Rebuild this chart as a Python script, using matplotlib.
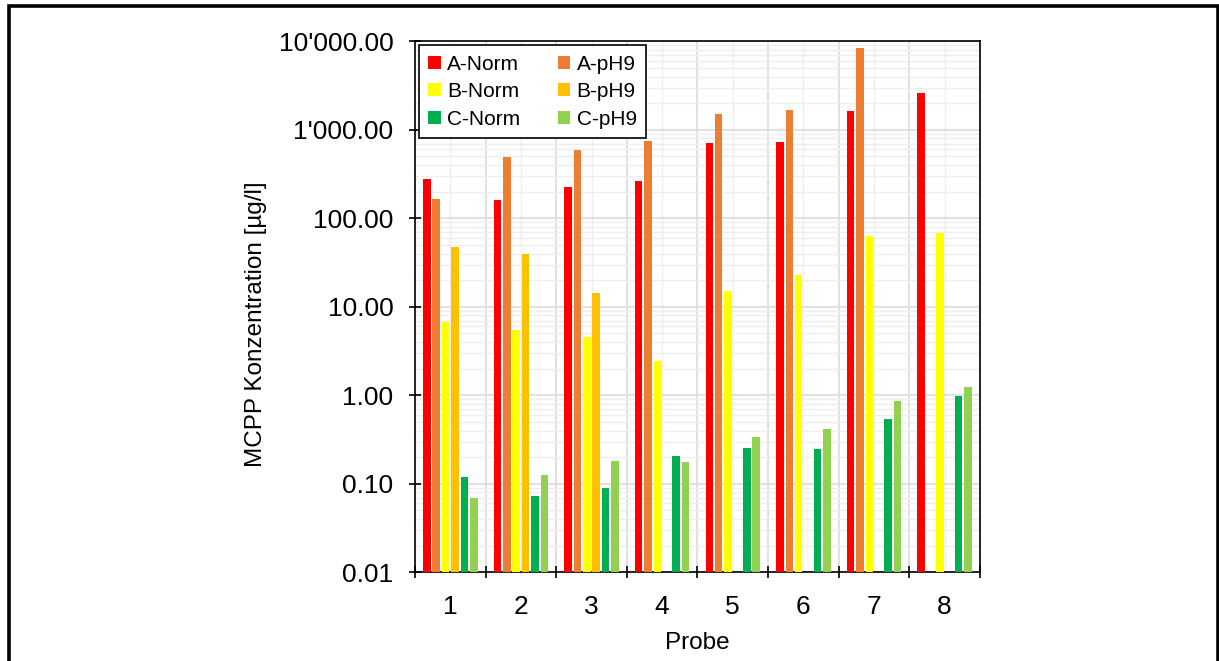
import numpy as np
import matplotlib
matplotlib.use("Agg")
import matplotlib.pyplot as plt
from matplotlib.lines import Line2D
from matplotlib.ticker import FuncFormatter, FixedLocator, LogLocator, NullFormatter

plt.rcParams['font.family'] = ['Liberation Sans', 'DejaVu Sans']

# data (NaN = no bar)
probes = ['1', '2', '3', '4', '5', '6', '7', '8']
series = ['A-Norm', 'A-pH9', 'B-Norm', 'B-pH9', 'C-Norm', 'C-pH9']
colors = ['#FF0000', '#ED7D31', '#FFFF00', '#FFC000', '#00B050', '#92D050']

a_norm = [276, 161, 224, 264, 709, 724, 1614, 2637]
a_ph9 = [165, 497, 591, 753, 1513, 1661, 8300, np.nan]
b_norm = [6.7, 5.47, 4.59, 2.42, 15.2, 23.0, 62.6, 68.8]
b_ph9 = [47.4, 39.8, 14.2, np.nan, np.nan, np.nan, np.nan, np.nan]
c_norm = [0.120, 0.072, 0.090, 0.205, 0.251, 0.246, 0.544, 0.98]
c_ph9 = [0.069, 0.125, 0.179, 0.176, 0.342, 0.414, 0.857, 1.25]
values = [a_norm, a_ph9, b_norm, b_ph9, c_norm, c_ph9]

fig = plt.figure(figsize=(12.19, 6.61), dpi=100)
ax = fig.add_axes([0.3404, 0.1342, 0.4635, 0.8033])

x = np.arange(1, len(probes) + 1)
slot = 0.133
bars = []
for i, (name, vals, col) in enumerate(zip(series, values, colors)):
    b = ax.bar(x + (i - 2.5) * slot, vals, width=slot * 0.8, color=col,
               label=name, zorder=3)
    bars.append(b)

ax.set_yscale('log')
ax.set_ylim(0.01, 10000)
ax.set_xlim(0.5, len(probes) + 0.5)

fmt = FuncFormatter(lambda v, p: f"{v:,.2f}".replace(",", "'"))
ax.yaxis.set_major_locator(LogLocator(base=10, numticks=10))
ax.yaxis.set_major_formatter(fmt)
ax.yaxis.set_minor_locator(LogLocator(base=10, subs=np.arange(2, 10), numticks=20))
ax.yaxis.set_minor_formatter(NullFormatter())

# boundaries carry tick marks, centers carry labels
ax.xaxis.set_major_locator(FixedLocator(np.arange(0.5, len(probes) + 1, 1)))
ax.xaxis.set_major_formatter(NullFormatter())
ax.xaxis.set_minor_locator(FixedLocator(x))
ax.set_xticklabels(probes, minor=True)

ax.tick_params(axis='x', which='major', direction='inout', length=9, width=1.2,
               color='black', labelbottom=False)
ax.tick_params(axis='x', which='minor', length=0, pad=16, labelsize=19)
ax.tick_params(axis='y', which='major', direction='inout', length=9, width=1.2,
               color='black', labelsize=19, pad=11)
ax.tick_params(axis='y', which='minor', length=0, labelleft=False)

ax.grid(True, which='major', color='#d9d9d9', linewidth=1.1, zorder=0)
ax.grid(True, which='minor', color='#eeeeee', linewidth=1.0, zorder=0)
ax.set_axisbelow(True)

for s in ax.spines.values():
    s.set_color('black')
    s.set_linewidth(1.2)

ax.set_xlabel('Probe', fontsize=17.5)
ax.xaxis.set_label_coords(0.5, -0.112)
ax.set_ylabel('MCPP Konzentration [µg/l]', fontsize=17.5)
ax.yaxis.set_label_coords(-0.262, 0.468)

# row-wise legend order: A-Norm / A-pH9, B-Norm / B-pH9, C-Norm / C-pH9
order = [0, 2, 4, 1, 3, 5]
leg = ax.legend([bars[i] for i in order], [series[i] for i in order],
                loc='upper left', ncol=2, fontsize=15, frameon=True, fancybox=False,
                handlelength=0.6, handleheight=0.6, handletextpad=0.3,
                columnspacing=1.8, labelspacing=0.4, borderaxespad=0.2,
                borderpad=0.45)
leg.get_frame().set_edgecolor('black')
leg.get_frame().set_linewidth(1.2)
leg.get_frame().set_alpha(1)

# outer frame: left, top and right edges only (bottom is cut off in the original)
x0, x1, ytop = 8.5 / 1219, 1218.0 / 1219, 1 - 5.5 / 661
fig.lines.append(Line2D([x0, x0, x1, x1], [0, ytop, ytop, 0], transform=fig.transFigure,
                        color='black', linewidth=2.6, solid_joinstyle='miter'))

fig.savefig('out.png', dpi=100)
